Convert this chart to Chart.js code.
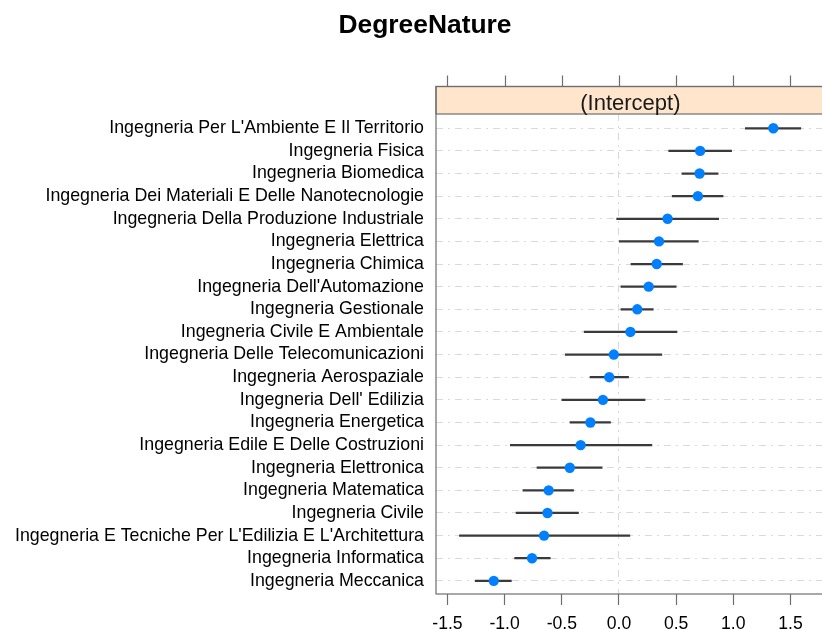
<!DOCTYPE html>
<html>
<head>
<meta charset="utf-8">
<title>DegreeNature</title>
<script src="https://cdn.jsdelivr.net/npm/chart.js@4.4.1/dist/chart.umd.min.js"></script>
<style>
  html, body { margin: 0; padding: 0; background: #ffffff; overflow: hidden; }
  #wrap { position: relative; width: 830px; height: 630px; }
</style>
</head>
<body>
<div id="wrap"><canvas id="chart" width="830" height="630"></canvas></div>
<script>
// Random-intercept estimates per degree programme, with interval bounds
const degrees = [
  "Ingegneria Per L'Ambiente E Il Territorio",
  "Ingegneria Fisica",
  "Ingegneria Biomedica",
  "Ingegneria Dei Materiali E Delle Nanotecnologie",
  "Ingegneria Della Produzione Industriale",
  "Ingegneria Elettrica",
  "Ingegneria Chimica",
  "Ingegneria Dell'Automazione",
  "Ingegneria Gestionale",
  "Ingegneria Civile E Ambientale",
  "Ingegneria Delle Telecomunicazioni",
  "Ingegneria Aerospaziale",
  "Ingegneria Dell' Edilizia",
  "Ingegneria Energetica",
  "Ingegneria Edile E Delle Costruzioni",
  "Ingegneria Elettronica",
  "Ingegneria Matematica",
  "Ingegneria Civile",
  "Ingegneria E Tecniche Per L'Edilizia E L'Architettura",
  "Ingegneria Informatica",
  "Ingegneria Meccanica"
];
const estimate = [1.35, 0.71, 0.705, 0.69, 0.425, 0.35, 0.33, 0.26, 0.16, 0.10, -0.045,
                  -0.085, -0.14, -0.25, -0.335, -0.43, -0.615, -0.625, -0.655, -0.76, -1.095];
const lower    = [1.105, 0.435, 0.55, 0.465, -0.02, 0.003, 0.105, 0.017, 0.017, -0.305, -0.47,
                  -0.253, -0.50, -0.428, -0.95, -0.717, -0.84, -0.90, -1.395, -0.912, -1.257];
const upper    = [1.59, 0.985, 0.867, 0.91, 0.872, 0.694, 0.556, 0.50, 0.30, 0.507, 0.375,
                  0.084, 0.228, -0.074, 0.288, -0.147, -0.397, -0.354, 0.095, -0.601, -0.941];
const xTicks = [-1.5, -1.0, -0.5, 0.0, 0.5, 1.0, 1.5];
const panelTitle = "(Intercept)";
const mainTitle = "DegreeNature";

const FONT = "'Liberation Sans', Arial, Helvetica, sans-serif";
const STRIP_H = 27.5;
const TICK_LEN = 11;
const FRAME = '#6e6e6e';

// Lattice-style panel: frame, strip with label, top tick marks and the main title
const panelDecor = {
  id: 'panelDecor',
  afterDraw(chart) {
    const ctx = chart.ctx;
    const a = chart.chartArea;
    const xs = chart.scales.x;
    const stripTop = a.top - STRIP_H;
    ctx.save();
    // strip
    ctx.fillStyle = '#FFE5CC';
    ctx.fillRect(a.left, stripTop, a.right - a.left, STRIP_H);
    ctx.strokeStyle = FRAME;
    ctx.lineWidth = 1.2;
    ctx.strokeRect(a.left, stripTop, a.right - a.left, STRIP_H);
    // panel frame
    ctx.strokeRect(a.left, stripTop, a.right - a.left, a.bottom - stripTop);
    // top tick marks
    ctx.beginPath();
    xTicks.forEach(v => {
      const px = Math.round(xs.getPixelForValue(v)) + 0.5;
      ctx.moveTo(px, stripTop);
      ctx.lineTo(px, stripTop - TICK_LEN);
    });
    ctx.stroke();
    // strip label
    ctx.fillStyle = '#1a1a1a';
    ctx.font = '22px ' + FONT;
    ctx.textAlign = 'center';
    ctx.textBaseline = 'alphabetic';
    ctx.fillText(panelTitle, (a.left + a.right) / 2, a.top - 4);
    // main title
    ctx.fillStyle = '#000000';
    ctx.font = 'bold 26.4px ' + FONT;
    ctx.fillText(mainTitle, 425, 33);
    ctx.restore();
  }
};

const barData = degrees.map((d, i) => ({ x: [lower[i], upper[i]], y: i }));
const pointData = degrees.map((d, i) => ({ x: estimate[i], y: i }));

new Chart(document.getElementById('chart'), {
  type: 'bar',
  data: {
    datasets: [
      {
        type: 'line',
        data: pointData,
        showLine: false,
        pointRadius: 5.2,
        pointHoverRadius: 5.2,
        pointBackgroundColor: '#0080FF',
        pointBorderColor: '#0080FF',
        pointBorderWidth: 0,
        order: 1
      },
      {
        type: 'bar',
        data: barData,
        backgroundColor: '#3a3a3a',
        borderWidth: 0,
        barThickness: 1.6,
        order: 2
      }
    ]
  },
  options: {
    indexAxis: 'y',
    responsive: false,
    animation: false,
    events: [],
    layout: { padding: { top: 114, left: 0, right: 0, bottom: 0 } },
    plugins: {
      legend: { display: false },
      title: { display: false },
      tooltip: { enabled: false }
    },
    scales: {
      x: {
        type: 'linear',
        position: 'bottom',
        min: -1.6,
        max: 1.8,
        offset: false,
        afterFit: s => { s.height = 36; },
        afterBuildTicks: s => { s.ticks = xTicks.map(v => ({ value: v })); },
        border: { display: false, dash: [7, 5, 2, 5] },
        grid: {
          offset: false,
          color: c => (c.tick && c.tick.value === 0) ? '#d8d8d8' : 'rgba(0,0,0,0)',
          lineWidth: 1,
          drawTicks: true,
          tickLength: TICK_LEN,
          tickColor: FRAME,
          tickWidth: 1.2
        },
        ticks: {
          padding: 9,
          color: '#000000',
          font: { family: FONT, size: 17.6 },
          callback: v => Number(v).toFixed(1)
        }
      },
      y: {
        type: 'linear',
        position: 'left',
        reverse: true,
        offset: false,
        min: -0.63,
        max: degrees.length - 0.42,
        afterFit: s => { s.width = 436; },
        afterBuildTicks: s => { s.ticks = degrees.map((d, i) => ({ value: i })); },
        border: { display: false, dash: [7, 5, 2, 5] },
        grid: {
          offset: false,
          color: '#dadada',
          lineWidth: 1,
          drawTicks: false
        },
        ticks: {
          autoSkip: false,
          padding: 12,
          color: '#000000',
          font: { family: FONT, size: 17.8 },
          callback: v => degrees[v]
        }
      }
    }
  },
  plugins: [panelDecor]
});
</script>
</body>
</html>
